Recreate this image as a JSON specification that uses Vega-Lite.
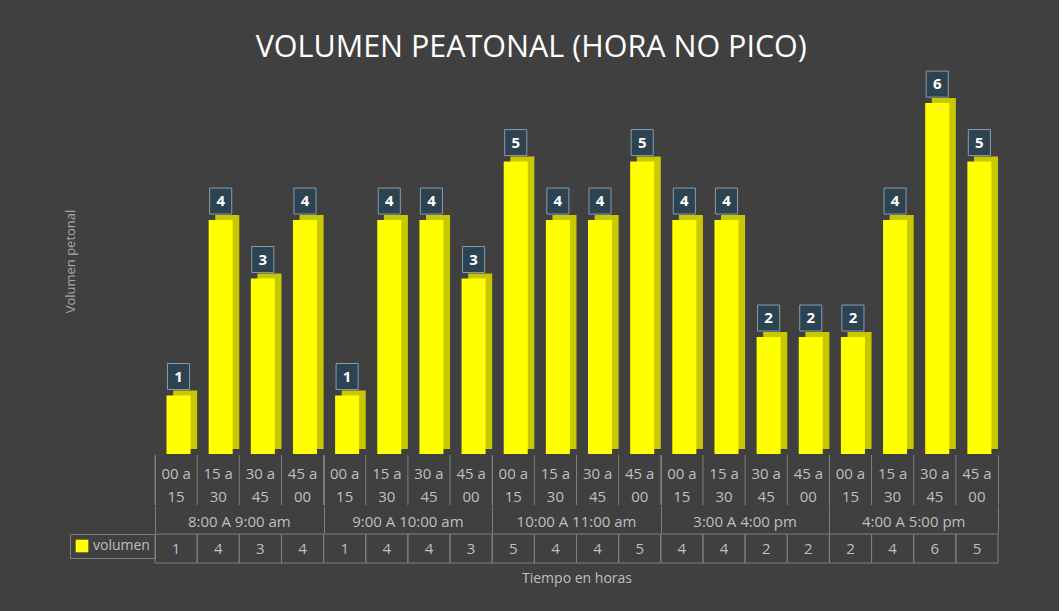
{
  "$schema": "https://vega.github.io/schema/vega-lite/v6.json",
  "background": "#404040",
  "padding": {"left": 64, "top": 32, "right": 60, "bottom": 30},
  "title": {"text": "VOLUMEN PEATONAL (HORA NO PICO)", "fontSize": 30.5, "font": "Open Sans", "fontWeight": "normal", "color": "#ffffff", "anchor": "middle", "offset": 5},
  "config": {"view": {"stroke": null}},
  "data": {"values": [
    {"grupo": "8:00 A 9:00 am", "franja": "00 a\n15", "volumen": 1},
    {"grupo": "8:00 A 9:00 am", "franja": "15 a\n30", "volumen": 4},
    {"grupo": "8:00 A 9:00 am", "franja": "30 a\n45", "volumen": 3},
    {"grupo": "8:00 A 9:00 am", "franja": "45 a\n00", "volumen": 4},
    {"grupo": "9:00 A 10:00 am", "franja": "00 a\n15", "volumen": 1},
    {"grupo": "9:00 A 10:00 am", "franja": "15 a\n30", "volumen": 4},
    {"grupo": "9:00 A 10:00 am", "franja": "30 a\n45", "volumen": 4},
    {"grupo": "9:00 A 10:00 am", "franja": "45 a\n00", "volumen": 3},
    {"grupo": "10:00 A 11:00 am", "franja": "00 a\n15", "volumen": 5},
    {"grupo": "10:00 A 11:00 am", "franja": "15 a\n30", "volumen": 4},
    {"grupo": "10:00 A 11:00 am", "franja": "30 a\n45", "volumen": 4},
    {"grupo": "10:00 A 11:00 am", "franja": "45 a\n00", "volumen": 5},
    {"grupo": "3:00 A 4:00 pm", "franja": "00 a\n15", "volumen": 4},
    {"grupo": "3:00 A 4:00 pm", "franja": "15 a\n30", "volumen": 4},
    {"grupo": "3:00 A 4:00 pm", "franja": "30 a\n45", "volumen": 2},
    {"grupo": "3:00 A 4:00 pm", "franja": "45 a\n00", "volumen": 2},
    {"grupo": "4:00 A 5:00 pm", "franja": "00 a\n15", "volumen": 2},
    {"grupo": "4:00 A 5:00 pm", "franja": "15 a\n30", "volumen": 4},
    {"grupo": "4:00 A 5:00 pm", "franja": "30 a\n45", "volumen": 6},
    {"grupo": "4:00 A 5:00 pm", "franja": "45 a\n00", "volumen": 5}
  ]},
  "spacing": 0,
  "resolve": {"scale": {"x": "independent", "xOffset": "independent", "y": "independent", "color": "independent"}, "legend": {"color": "independent"}},
  "vconcat": [
    {
      "width": 843, "height": 386,
      "resolve": {"scale": {"xOffset": "independent"}},
      "encoding": {
        "x": {"field": "grupo", "type": "nominal", "sort": null, "scale": {"paddingInner": 0, "paddingOuter": 0}, "axis": null},
        "y": {"field": "volumen", "type": "quantitative", "scale": {"domain": [0, 6.6], "nice": false}, "axis": {"title": "Volumen petonal", "labels": false, "ticks": false, "domain": false, "grid": false, "titleColor": "#a6a6a6", "titleFontSize": 13, "titleFont": "Open Sans", "titleFontWeight": "normal", "titlePadding": 78}}
      },
      "layer": [
        {"mark": {"type": "bar", "color": "#C8C800", "yOffset": -5},
         "encoding": {"xOffset": {"field": "franja", "type": "nominal", "sort": null, "scale": {"type": "band", "paddingInner": 0.43, "paddingOuter": 0.215, "align": 1}}}},
        {"mark": {"type": "bar", "color": "#FFFF00"},
         "encoding": {"xOffset": {"field": "franja", "type": "nominal", "sort": null, "scale": {"type": "band", "paddingInner": 0.43, "paddingOuter": 0.215, "align": 0.635}}}},
        {"mark": {"type": "point", "shape": "M-0.85,-1H0.85V1H-0.85Z", "size": 676, "filled": true, "fill": "#2E4352", "stroke": "#8C9BA6", "strokeWidth": 1, "opacity": 1, "yOffset": -19},
         "encoding": {"xOffset": {"field": "franja", "type": "nominal", "sort": null, "scale": {"type": "band", "paddingInner": 0.43, "paddingOuter": 0.215, "align": 0.635}}}},
        {"mark": {"type": "text", "color": "#ffffff", "fontWeight": "bold", "fontSize": 15, "font": "Open Sans", "baseline": "middle", "yOffset": -19},
         "encoding": {"xOffset": {"field": "franja", "type": "nominal", "sort": null, "scale": {"type": "band", "paddingInner": 0.43, "paddingOuter": 0.215, "align": 0.635}}, "text": {"field": "volumen", "type": "quantitative"}}}
      ]
    },
    {
      "width": 843, "height": 50,
      "resolve": {"scale": {"xOffset": "independent"}},
      "encoding": {
        "x": {"field": "grupo", "type": "nominal", "sort": null, "scale": {"paddingInner": 0, "paddingOuter": 0}, "axis": {"grid": true, "tickBand": "extent", "gridColor": "#7f7f7f", "labels": false, "ticks": false, "domain": false, "title": null}}
      },
      "layer": [
        {"mark": {"type": "rule", "color": "#7f7f7f"},
         "encoding": {"xOffset": {"field": "franja", "type": "nominal", "scale": {"type": "point", "padding": 0, "domain": ["00 a\n15", "15 a\n30", "30 a\n45", "45 a\n00", "fin"]}}}},
        {"mark": {"type": "text", "color": "#bfbfbf", "fontSize": 15, "font": "Open Sans", "lineBreak": "\n", "lineHeight": 23, "baseline": "middle", "yOffset": -6},
         "encoding": {"xOffset": {"field": "franja", "type": "nominal", "sort": null, "scale": {"type": "band", "paddingInner": 0, "paddingOuter": 0}}, "text": {"field": "franja"}}}
      ]
    },
    {
      "width": 843, "height": 27,
      "transform": [{"filter": {"field": "franja", "equal": "00 a\n15"}}],
      "mark": {"type": "text", "color": "#bfbfbf", "fontSize": 15, "font": "Open Sans", "baseline": "middle", "yOffset": 2},
      "encoding": {
        "x": {"field": "grupo", "type": "nominal", "sort": null, "scale": {"paddingInner": 0, "paddingOuter": 0}, "axis": {"grid": true, "tickBand": "extent", "gridColor": "#7f7f7f", "labels": false, "ticks": false, "domain": false, "title": null}},
        "text": {"field": "grupo"}
      }
    },
    {
      "width": 843, "height": 29,
      "encoding": {
        "x": {"field": "grupo", "type": "nominal", "sort": null, "scale": {"paddingInner": 0, "paddingOuter": 0}, "axis": {"title": "Tiempo en horas", "labels": false, "ticks": false, "domain": false, "grid": false, "titleColor": "#bfbfbf", "titleFontSize": 14, "titleFont": "Open Sans", "titleFontWeight": "normal", "titlePadding": 8}},
        "xOffset": {"field": "franja", "type": "nominal", "sort": null, "scale": {"type": "band", "paddingInner": 0, "paddingOuter": 0}}
      },
      "layer": [
        {"mark": {"type": "bar", "fillOpacity": 0, "stroke": "#7f7f7f", "strokeWidth": 1},
         "encoding": {"color": {"datum": "volumen", "type": "nominal", "scale": {"range": ["#FFFF00"]}, "legend": {"orient": "left", "title": null, "symbolType": "square", "symbolSize": 160, "symbolOpacity": 1, "symbolStrokeWidth": 0, "symbolFillColor": "#FFFF00", "labelColor": "#bfbfbf", "labelFontSize": 14, "labelFont": "Open Sans", "strokeColor": "#7f7f7f", "padding": 5, "offset": 0, "labelOffset": 4}}}},
        {"mark": {"type": "text", "color": "#bfbfbf", "fontSize": 15, "font": "Open Sans", "baseline": "middle"},
         "encoding": {"text": {"field": "volumen", "type": "quantitative"}}}
      ]
    }
  ]
}
